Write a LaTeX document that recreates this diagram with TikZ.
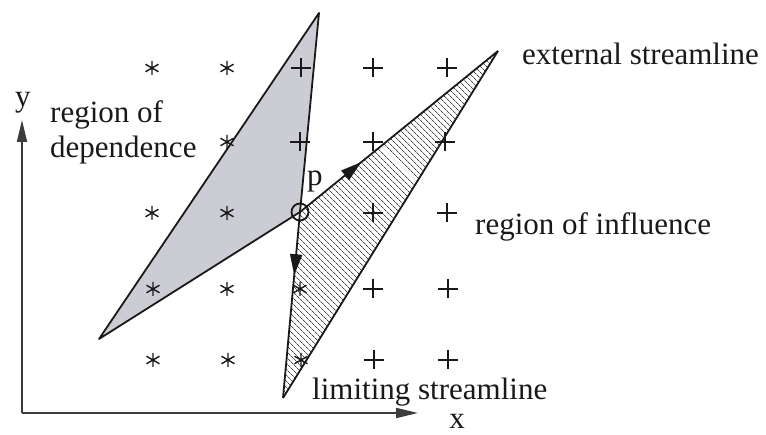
\documentclass[tikz,border=0pt]{standalone}
\usepackage{fontspec}
\setmainfont{Liberation Serif}
\usetikzlibrary{patterns.meta,decorations.markings,arrows.meta}
\definecolor{regiongray}{RGB}{204,204,212}
\definecolor{inkc}{RGB}{25,25,25}
\newcommand\astmark[1]{\draw[markline] (#1) +(90:7) -- +(270:7) +(30:7.5) -- +(210:7.5) +(150:7.5) -- +(330:7.5);}
\newcommand\plmark[1]{\draw[markline] (#1) +(-10,0) -- +(10,0) +(0,-9.5) -- +(0,9.5);}
\begin{document}
\begin{tikzpicture}[x=1pt,y=-1pt,
  edge/.style={line width=1.8pt, line join=round, draw=inkc},
  markline/.style={line width=1.4pt, draw=inkc},
  axisline/.style={line width=1.8pt, draw=inkc!85},
  lbl/.style={inner sep=0pt, font=\fontsize{31}{37}\selectfont, text=inkc},
  midarrow/.style={postaction={decorate}, decoration={markings, mark=at position #1 with {\arrow{Triangle[length=21pt,width=12pt]}}}}]
\useasboundingbox (0,0) rectangle (766,435);
% vertices
\coordinate (P) at (300,212);
\coordinate (DT) at (319,13);
\coordinate (DL) at (99,339);
\coordinate (IT) at (498,51);
\coordinate (IB) at (283,398);
% regions
\fill[regiongray] (P) -- (DT) -- (DL) -- cycle;
\fill[pattern={Lines[angle=-45,distance=4pt,line width=0.8pt]}, pattern color=inkc!80] (P) -- (IT) -- (IB) -- cycle;
% edges
\draw[edge] (P) -- (DT) -- (DL) -- cycle;
\draw[edge] (IT) -- (IB);
\draw[edge, midarrow=0.31] (P) -- (IT);
\draw[edge, midarrow=0.34] (P) -- (IB);
% markers
\foreach \x/\y/\n in {152/68/a1,227/68/a2,227/142/a3,152/213/a4,227/213/a5,153/289/a6,227/289/a7,300/289/a8,153/360/a9,228/360/a10,301/360/a11}{
  \coordinate (\n) at (\x,\y); \astmark{\n}}
\foreach \x/\y/\n in {301/68/p1,373/68/p2,447/68/p3,300/142/p4,373/142/p5,445/142/p6,373/213/p7,447/213/p8,373/289/p9,448/289/p10,374/360/p11,448/360/p12}{
  \coordinate (\n) at (\x,\y); \plmark{\n}}
\node[circle, draw=inkc, line width=1.8pt, minimum size=17pt, inner sep=0pt] (Pc) at (P) {};
% axes
\coordinate (O) at (22,413);
\coordinate (Xe) at (418,413);
\coordinate (Ye) at (22,120);
\draw[axisline, -{Triangle[length=22pt,width=10pt]}] (O) -- (Xe);
\draw[axisline, -{Triangle[length=22pt,width=10pt]}] (O) -- (Ye);
% labels
\node[lbl, anchor=base] (ylab) at (23,107) {y};
\node[lbl, anchor=base] (xlab) at (457,429) {x};
\node[lbl, anchor=base west] (plab) at (307,186) {p};
\node[lbl, anchor=base west] (dep1) at (50,123) {region of};
\node[lbl, anchor=base west] (dep2) at (50,158) {dependence};
\node[lbl, anchor=base west] (ext) at (522,65) {external streamline};
\node[lbl, anchor=base west] (infl) at (475,235) {region of influence};
\node[lbl, anchor=base west] (lim) at (312,400) {limiting streamline};
\end{tikzpicture}
\end{document}
